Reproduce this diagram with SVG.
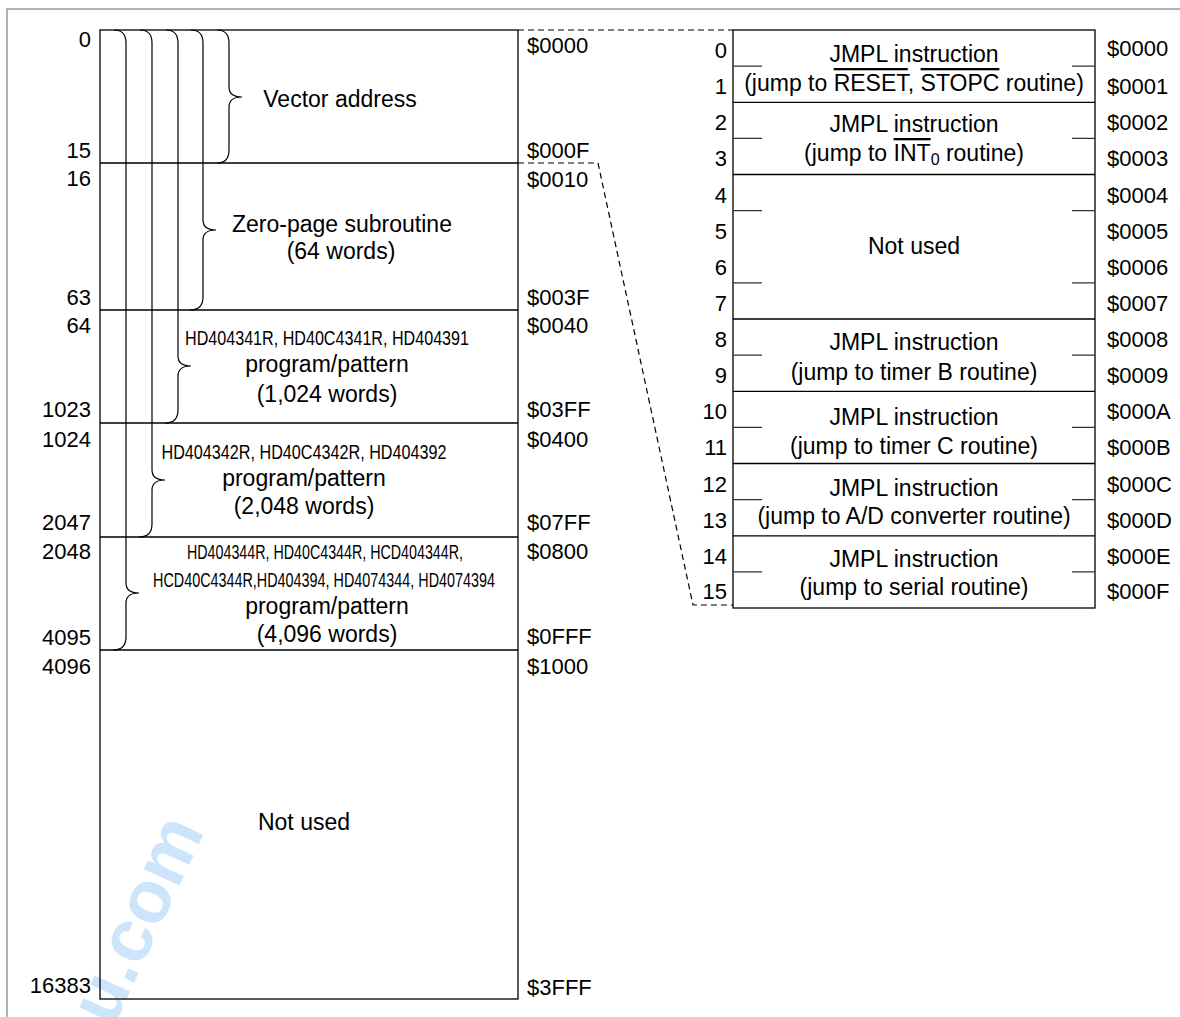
<svg xmlns="http://www.w3.org/2000/svg" width="1180" height="1017" viewBox="0 0 1180 1017">
<style>
text{font-family:"Liberation Sans",Arial,sans-serif;fill:#000}
.t{font-size:23px;text-anchor:middle}
.n{font-size:22px}
.r{text-anchor:end}
.c{font-size:21px;text-anchor:middle}
.ln{stroke:#000;stroke-width:1.3;fill:none}
.br{stroke:#000;stroke-width:1.2;fill:none}
.tk{stroke:#333;stroke-width:1.2}
.dash{stroke:#000;stroke-width:1.2;fill:none;stroke-dasharray:6 4}
.ol{text-decoration:overline}
</style>
<rect width="1180" height="1017" fill="#fff"/>
<g id="watermark">
<text x="113" y="1028" transform="rotate(-65 113 1028)" style="font-size:74px;font-weight:bold;fill:#cde5fb">u.com</text>
</g>
<path d="M7,1017 V9 H1180" stroke="#999" stroke-width="1.5" fill="none"/>
<g id="memory-map">
<rect x="100" y="30" width="418" height="969" class="ln"/>
<path class="ln" d="M100,163 H518 M100,310 H518 M100,423 H518 M100,537 H518 M100,650 H518"/>
</g>
<g id="braces">
<path class="br" d="M217,30 Q229,30 229,43 V87 Q229,97 242,97 Q229,97 229,107 V150 Q229,163 217,163"/>
<path class="br" d="M191,30 Q203,30 203,43 V220 Q203,230 216,230 Q203,230 203,240 V297 Q203,310 190,310"/>
<path class="br" d="M166,30 Q178,30 178,43 V356 Q178,366 191,366 Q178,366 178,376 V410 Q178,423 165,423"/>
<path class="br" d="M140,30 Q152,30 152,43 V470 Q152,480 165,480 Q152,480 152,490 V524 Q152,537 139,537"/>
<path class="br" d="M114,30 Q126,30 126,43 V583 Q126,593 139,593 Q126,593 126,603 V637 Q126,650 113,650"/>
</g>
<g id="left-numbers" class="n">
<text class="r" x="91" y="47">0</text>
<text class="r" x="91" y="158">15</text>
<text class="r" x="91" y="186">16</text>
<text class="r" x="91" y="305">63</text>
<text class="r" x="91" y="333">64</text>
<text class="r" x="91" y="417">1023</text>
<text class="r" x="91" y="447">1024</text>
<text class="r" x="91" y="530">2047</text>
<text class="r" x="91" y="559">2048</text>
<text class="r" x="91" y="645">4095</text>
<text class="r" x="91" y="674">4096</text>
<text class="r" x="91" y="993">16383</text>
</g>
<g id="left-addresses" class="n">
<text x="527" y="53">$0000</text>
<text x="527" y="158">$000F</text>
<text x="527" y="187">$0010</text>
<text x="527" y="305">$003F</text>
<text x="527" y="333">$0040</text>
<text x="527" y="417">$03FF</text>
<text x="527" y="447">$0400</text>
<text x="527" y="530">$07FF</text>
<text x="527" y="559">$0800</text>
<text x="527" y="644">$0FFF</text>
<text x="527" y="674">$1000</text>
<text x="527" y="995">$3FFF</text>
</g>
<g id="region-labels">
<text class="t" x="340" y="107">Vector address</text>
<text class="t" x="342" y="232">Zero-page subroutine</text>
<text class="t" x="341" y="259">(64 words)</text>
<text class="c" x="327" y="345" textLength="284" lengthAdjust="spacingAndGlyphs">HD404341R, HD40C4341R, HD404391</text>
<text class="t" x="327" y="372">program/pattern</text>
<text class="t" x="327" y="402">(1,024 words)</text>
<text class="c" x="304" y="459" textLength="285" lengthAdjust="spacingAndGlyphs">HD404342R, HD40C4342R, HD404392</text>
<text class="t" x="304" y="486">program/pattern</text>
<text class="t" x="304" y="514">(2,048 words)</text>
<text class="c" x="325" y="559" textLength="276" lengthAdjust="spacingAndGlyphs">HD404344R, HD40C4344R, HCD404344R,</text>
<text class="c" x="324" y="587" textLength="342" lengthAdjust="spacingAndGlyphs">HCD40C4344R,HD404394, HD4074344, HD4074394</text>
<text class="t" x="327" y="614">program/pattern</text>
<text class="t" x="327" y="642">(4,096 words)</text>
<text class="t" x="304" y="830">Not used</text>
</g>
<g id="connectors">
<path class="dash" d="M518,30 H733"/>
<path class="dash" d="M518,163 H598 L693,605 H733"/>
</g>
<g id="vector-table">
<rect x="733" y="30" width="362" height="578" class="ln"/>
<path class="ln" d="M733,102.3 H1095 M733,174.5 H1095 M733,319 H1095 M733,391.3 H1095 M733,463.5 H1095 M733,535.8 H1095"/>
<path class="tk" d="M733,66.1 H762 M1072,66.1 H1095 M733,138.4 H762 M1072,138.4 H1095 M733,210.6 H762 M1072,210.6 H1095 M733,282.9 H762 M1072,282.9 H1095 M733,355.1 H762 M1072,355.1 H1095 M733,427.4 H762 M1072,427.4 H1095 M733,499.6 H762 M1072,499.6 H1095 M733,571.9 H762 M1072,571.9 H1095"/>
<text class="t" x="914" y="62">JMPL instruction</text>
<text class="t" x="914" y="91">(jump to <tspan class="ol">RESET</tspan>, <tspan class="ol">STOPC</tspan> routine)</text>
<text class="t" x="914" y="132">JMPL instruction</text>
<text class="t" x="914" y="161">(jump to <tspan class="ol">INT</tspan><tspan style="font-size:16px" dy="4">0</tspan><tspan dy="-4"> routine)</tspan></text>
<text class="t" x="914" y="254">Not used</text>
<text class="t" x="914" y="350">JMPL instruction</text>
<text class="t" x="914" y="380">(jump to timer B routine)</text>
<text class="t" x="914" y="425">JMPL instruction</text>
<text class="t" x="914" y="454">(jump to timer C routine)</text>
<text class="t" x="914" y="496">JMPL instruction</text>
<text class="t" x="914" y="524">(jump to A/D converter routine)</text>
<text class="t" x="914" y="567">JMPL instruction</text>
<text class="t" x="914" y="595">(jump to serial routine)</text>
</g>
<g id="table-rows" class="n">
<text class="r" x="727" y="58">0</text>
<text class="r" x="727" y="94">1</text>
<text class="r" x="727" y="130">2</text>
<text class="r" x="727" y="166">3</text>
<text class="r" x="727" y="203">4</text>
<text class="r" x="727" y="239">5</text>
<text class="r" x="727" y="275">6</text>
<text class="r" x="727" y="311">7</text>
<text class="r" x="727" y="347">8</text>
<text class="r" x="727" y="383">9</text>
<text class="r" x="727" y="419">10</text>
<text class="r" x="727" y="455">11</text>
<text class="r" x="727" y="492">12</text>
<text class="r" x="727" y="528">13</text>
<text class="r" x="727" y="564">14</text>
<text class="r" x="727" y="599">15</text>
<text x="1107" y="56">$0000</text>
<text x="1107" y="94">$0001</text>
<text x="1107" y="130">$0002</text>
<text x="1107" y="166">$0003</text>
<text x="1107" y="203">$0004</text>
<text x="1107" y="239">$0005</text>
<text x="1107" y="275">$0006</text>
<text x="1107" y="311">$0007</text>
<text x="1107" y="347">$0008</text>
<text x="1107" y="383">$0009</text>
<text x="1107" y="419">$000A</text>
<text x="1107" y="455">$000B</text>
<text x="1107" y="492">$000C</text>
<text x="1107" y="528">$000D</text>
<text x="1107" y="564">$000E</text>
<text x="1107" y="599">$000F</text>
</g>
</svg>
